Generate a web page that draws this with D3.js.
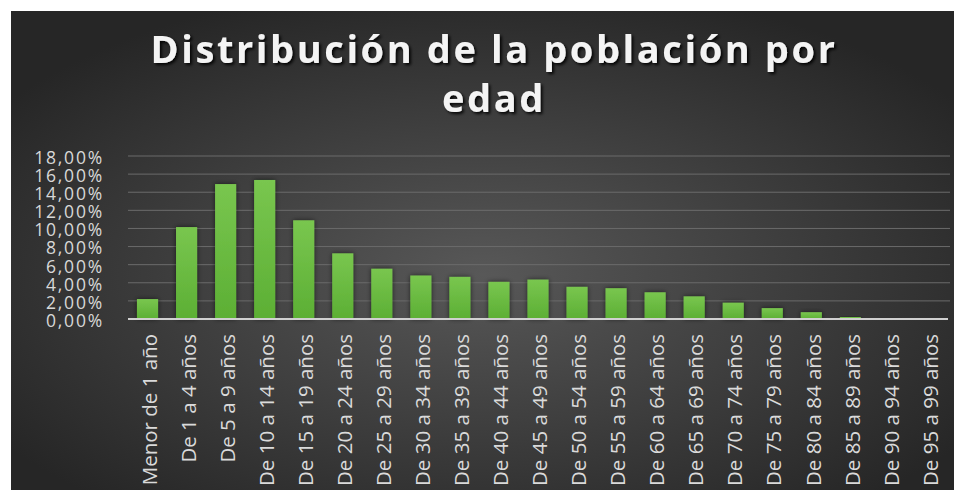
<!DOCTYPE html>
<html>
<head>
<meta charset="utf-8">
<script src="https://cdn.jsdelivr.net/npm/d3@7"></script>
<style>
  html, body { margin: 0; padding: 0; background: #ffffff; overflow: hidden; }
  svg { display: block; }
</style>
</head>
<body>
<div id="chart"></div>
<script>
//
// DATA
//
const categories = [
    'Menor de 1 año', 'De 1 a 4 años', 'De 5 a 9 años', 'De 10 a 14 años',
    'De 15 a 19 años', 'De 20 a 24 años', 'De 25 a 29 años', 'De 30 a 34 años',
    'De 35 a 39 años', 'De 40 a 44 años', 'De 45 a 49 años', 'De 50 a 54 años',
    'De 55 a 59 años', 'De 60 a 64 años', 'De 65 a 69 años', 'De 70 a 74 años',
    'De 75 a 79 años', 'De 80 a 84 años', 'De 85 a 89 años', 'De 90 a 94 años',
    'De 95 a 99 años'
]
// share of population, in percent
const values = [
    2.2, 10.15, 14.9, 15.35, 10.9, 7.25, 5.55, 4.8, 4.65, 4.1, 4.35,
    3.55, 3.4, 2.95, 2.5, 1.8, 1.2, 0.75, 0.22, 0.08, 0.05
]
const yTicks = [0, 2, 4, 6, 8, 10, 12, 14, 16, 18]
const titleLines = ['Distribución de la población por', 'edad']

//
// GLOBALS
//
const width = 954
const height = 490
const margin = { top: 156, right: 6, bottom: 171, left: 128 }

const svg = d3.select('#chart').append('svg')
    .attr('width', width)
    .attr('height', height)

const defs = svg.append('defs')

// background: dark radial gradient
const bg = defs.append('radialGradient').attr('id', 'bg')
    .attr('cx', '50%').attr('cy', '55%').attr('r', '62%')
bg.append('stop').attr('offset', '0%').attr('stop-color', '#585858')
bg.append('stop').attr('offset', '100%').attr('stop-color', '#262626')

// bars: slight vertical gradient
const barGrad = defs.append('linearGradient').attr('id', 'barGrad')
    .attr('x1', 0).attr('y1', 0).attr('x2', 0).attr('y2', 1)
barGrad.append('stop').attr('offset', '0%').attr('stop-color', '#79c64f')
barGrad.append('stop').attr('offset', '100%').attr('stop-color', '#5caf34')

// soft dark shadow around bars
const barShadow = defs.append('filter').attr('id', 'barShadow')
    .attr('x', '-50%').attr('y', '-50%').attr('width', '200%').attr('height', '200%')
barShadow.append('feDropShadow').attr('dx', 0).attr('dy', 0)
    .attr('stdDeviation', 2.5).attr('flood-color', '#000').attr('flood-opacity', 0.6)

// title shadow
const titleShadow = defs.append('filter').attr('id', 'titleShadow')
    .attr('x', '-10%').attr('y', '-30%').attr('width', '120%').attr('height', '160%')
titleShadow.append('feDropShadow').attr('dx', 2).attr('dy', 2)
    .attr('stdDeviation', 1.5).attr('flood-color', '#000').attr('flood-opacity', 0.9)

svg.append('rect')
    .attr('x', 11).attr('y', 11)
    .attr('width', width - 11).attr('height', height - 11)
    .attr('fill', 'url(#bg)')

//
// SCALES
//
const x = d3.scaleBand()
    .domain(categories)
    .range([margin.left, width - margin.right])
    .paddingInner(0.46)
    .paddingOuter(0.23)

const y = d3.scaleLinear()
    .domain([0, 18])
    .range([height - margin.bottom, margin.top])

// gridlines
svg.append('g')
    .selectAll('line')
    .data(yTicks.slice(1))
    .join('line')
    .attr('x1', margin.left).attr('x2', width - 4)
    .attr('y1', d => y(d)).attr('y2', d => y(d))
    .attr('stroke', '#6b6b6b')
    .attr('stroke-width', 1)

// bars
svg.append('g')
    .selectAll('rect')
    .data(values)
    .join('rect')
    .attr('x', (d, i) => x(categories[i]))
    .attr('y', d => y(d))
    .attr('width', x.bandwidth())
    .attr('height', d => y(0) - y(d))
    .attr('fill', 'url(#barGrad)')
    .attr('filter', 'url(#barShadow)')

// baseline
svg.append('line')
    .attr('x1', margin.left).attr('x2', width - 6)
    .attr('y1', y(0)).attr('y2', y(0))
    .attr('stroke', '#d0d0d0')
    .attr('stroke-width', 2)

// y axis labels
const yAxis = d3.axisLeft(y)
    .tickValues(yTicks)
    .tickSize(0)
    .tickPadding(0)
    .tickFormat(d => d3.format('.2f')(d).replace('.', ',') + '%')
svg.append('g')
    .attr('transform', `translate(104,0)`)
    .call(yAxis)
    .call(g => g.select('.domain').remove())
    .call(g => g.selectAll('text')
        .attr('fill', '#d8d8d8')
        .attr('dy', '0.42em')
        .style('font-family', '"Open Sans", sans-serif')
        .style('font-size', '17.5px')
        .style('letter-spacing', '1.8px'))

// x axis labels, rotated
const xAxis = d3.axisBottom(x).tickSize(0).tickPadding(0)
svg.append('g')
    .attr('transform', `translate(0,${y(0)})`)
    .call(xAxis)
    .call(g => g.select('.domain').remove())
    .call(g => g.selectAll('text')
        .attr('fill', '#dadada')
        .attr('text-anchor', 'end')
        .attr('transform', 'rotate(-90)')
        .attr('x', -15)
        .attr('y', 2)
        .attr('dy', '0.35em')
        .style('font-family', '"Open Sans", sans-serif')
        .style('font-size', '20.5px'))

// title
svg.append('g')
    .attr('filter', 'url(#titleShadow)')
    .selectAll('text')
    .data(titleLines)
    .join('text')
    .attr('x', 494)
    .attr('y', (d, i) => 63 + i * 49)
    .attr('text-anchor', 'middle')
    .attr('fill', '#f4f4f4')
    .style('font-family', '"Open Sans", sans-serif')
    .style('font-weight', 'bold')
    .style('font-size', '38px')
    .style('letter-spacing', '2.6px')
    .text(d => d)
</script>
</body>
</html>
